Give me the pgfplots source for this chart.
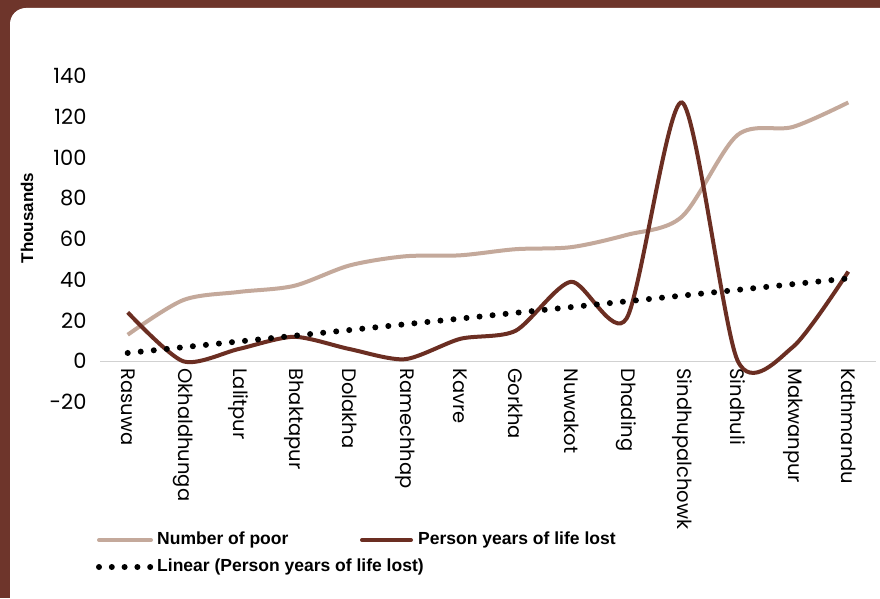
\documentclass[border=0pt]{standalone}
\usepackage{pgfplots}
\pgfplotsset{compat=1.18}
\usepackage{fontspec}
\setmainfont{Poppins}
\newfontfamily\legfont{Liberation Sans}
\definecolor{framecol}{HTML}{6E352B}
\definecolor{poorcol}{HTML}{C4A99B}
\definecolor{pylcol}{HTML}{6B2E22}
\begin{document}
\begin{tikzpicture}[x=1pt,y=1pt]
\useasboundingbox (0pt,0pt) rectangle (880pt,598pt);
\clip (0pt,0pt) rectangle (880pt,598pt);
\fill[framecol] (0pt,0pt) rectangle (880pt,598pt);
\fill[white, rounded corners=16pt] (10pt,-40pt) rectangle (920pt,590pt);
\begin{axis}[
  at={(100pt,196pt)}, anchor=south west, scale only axis,
  width=776pt, height=326pt,
  xmin=-0.5, xmax=13.5, ymin=-20, ymax=140,
  axis x line=middle, axis y line=left,
  x axis line style={-, draw=black!18, line width=1.4pt},
  y axis line style={draw=none},
  major tick length=0pt,
  ytick={-20,0,20,40,60,80,100,120,140},
  xtick={0,...,13},
  xticklabels={Rasuwa,Okhaldhunga,Lalitpur,Bhaktapur,Dolakha,Ramechhap,Kavre,Gorkha,Nuwakot,Dhading,Sindhupalchowk,Sindhuli,Makwanpur,Kathmandu},
  xticklabel style={rotate=-90, anchor=west, font=\fontsize{19.5}{22}\selectfont, inner sep=7pt},
  yticklabel style={font=\fontsize{21}{24}\selectfont, xshift=-10pt},
  /pgf/number format/assume math mode=true,
  clip=false,
]
\addplot[poorcol, line width=4pt, smooth, tension=0.5] coordinates {
 (0,13) (1,30) (2,34) (3,37) (4,47) (5,51.5) (6,52) (7,55) (8,56) (9,62) (10,71) (11,111) (12,115) (13,127)};
\addplot[pylcol, line width=4pt, smooth, tension=0.45] coordinates {
 (0,24) (1,0) (2,6) (3,12) (4,6) (5,1) (6,11) (7,15) (8,39) (9,21) (10,127) (11,0.5) (12,7) (13,44)};
\addplot[black, line width=6pt, line cap=round, dash pattern=on 0pt off 13.1pt] coordinates {
 (0,4.06) (13,40.66)};
\end{axis}
\node[rotate=90, font=\legfont\bfseries\fontsize{17}{20}\selectfont] at (27pt,380pt) {Thousands};
\draw[poorcol, line width=4pt, line cap=round] (99pt,58pt) -- (151pt,58pt);
\node[anchor=west, inner sep=2pt, font=\legfont\bfseries\fontsize{17.5}{20}\selectfont] at (155pt,58pt) {Number of poor};
\draw[pylcol, line width=4pt, line cap=round] (362pt,58pt) -- (411pt,58pt);
\node[anchor=west, inner sep=2pt, font=\legfont\bfseries\fontsize{17.5}{20}\selectfont] at (416pt,58pt) {Person years of life lost};
\draw[black, line width=6pt, line cap=round, dash pattern=on 0pt off 12.8pt] (99pt,31pt) -- (152pt,31pt);
\node[anchor=west, inner sep=2pt, font=\legfont\bfseries\fontsize{17.5}{20}\selectfont] at (155pt,31pt) {Linear (Person years of life lost)};
\end{tikzpicture}
\end{document}
